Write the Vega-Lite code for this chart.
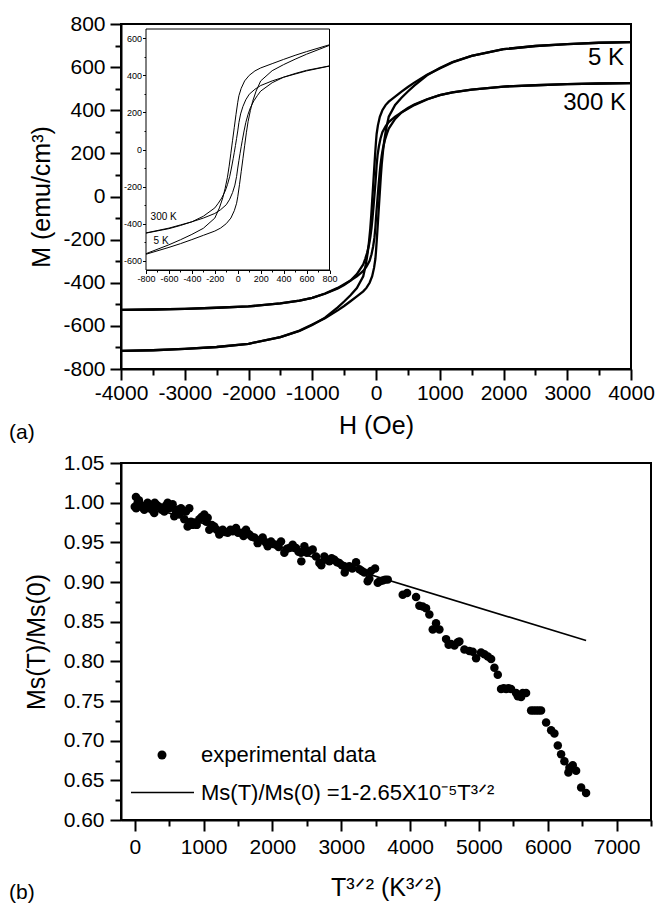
{
  "$schema": "https://vega.github.io/schema/vega-lite/v6.json",
  "padding": {"left": 8, "top": 12, "right": 5, "bottom": 5},
  "background": "white",
  "spacing": 7,
  "datasets": {
    "loops": [
      {"curve":"5K-down","H":4000,"M":716},{"curve":"5K-down","H":3500,"M":713},{"curve":"5K-down","H":3000,"M":707},{"curve":"5K-down","H":2500,"M":698},{"curve":"5K-down","H":2000,"M":683},{"curve":"5K-down","H":1500,"M":652},{"curve":"5K-down","H":1200,"M":622},{"curve":"5K-down","H":1000,"M":594},{"curve":"5K-down","H":800,"M":565},{"curve":"5K-down","H":600,"M":528},{"curve":"5K-down","H":500,"M":508},{"curve":"5K-down","H":400,"M":486},{"curve":"5K-down","H":300,"M":463},{"curve":"5K-down","H":200,"M":440},{"curve":"5K-down","H":150,"M":424},{"curve":"5K-down","H":100,"M":400},{"curve":"5K-down","H":60,"M":370},{"curve":"5K-down","H":30,"M":330},{"curve":"5K-down","H":10,"M":290},{"curve":"5K-down","H":0,"M":255},{"curve":"5K-down","H":-15,"M":190},{"curve":"5K-down","H":-30,"M":120},{"curve":"5K-down","H":-45,"M":50},{"curve":"5K-down","H":-60,"M":-20},{"curve":"5K-down","H":-75,"M":-90},{"curve":"5K-down","H":-90,"M":-150},{"curve":"5K-down","H":-110,"M":-210},{"curve":"5K-down","H":-130,"M":-260},{"curve":"5K-down","H":-160,"M":-315},{"curve":"5K-down","H":-200,"M":-370},{"curve":"5K-down","H":-300,"M":-425},{"curve":"5K-down","H":-400,"M":-458},{"curve":"5K-down","H":-500,"M":-487},{"curve":"5K-down","H":-600,"M":-514},{"curve":"5K-down","H":-800,"M":-562},{"curve":"5K-down","H":-1000,"M":-596},{"curve":"5K-down","H":-1200,"M":-624},{"curve":"5K-down","H":-1500,"M":-652},{"curve":"5K-down","H":-2000,"M":-683},{"curve":"5K-down","H":-2500,"M":-698},{"curve":"5K-down","H":-3000,"M":-707},{"curve":"5K-down","H":-3500,"M":-713},{"curve":"5K-down","H":-4000,"M":-716},
      {"curve":"5K-up","H":-4000,"M":-716},{"curve":"5K-up","H":-3500,"M":-713},{"curve":"5K-up","H":-3000,"M":-707},{"curve":"5K-up","H":-2500,"M":-698},{"curve":"5K-up","H":-2000,"M":-683},{"curve":"5K-up","H":-1500,"M":-652},{"curve":"5K-up","H":-1200,"M":-622},{"curve":"5K-up","H":-1000,"M":-594},{"curve":"5K-up","H":-800,"M":-565},{"curve":"5K-up","H":-600,"M":-528},{"curve":"5K-up","H":-500,"M":-508},{"curve":"5K-up","H":-400,"M":-486},{"curve":"5K-up","H":-300,"M":-463},{"curve":"5K-up","H":-200,"M":-440},{"curve":"5K-up","H":-150,"M":-424},{"curve":"5K-up","H":-100,"M":-400},{"curve":"5K-up","H":-60,"M":-370},{"curve":"5K-up","H":-30,"M":-330},{"curve":"5K-up","H":-10,"M":-290},{"curve":"5K-up","H":0,"M":-255},{"curve":"5K-up","H":15,"M":-190},{"curve":"5K-up","H":30,"M":-120},{"curve":"5K-up","H":45,"M":-50},{"curve":"5K-up","H":60,"M":20},{"curve":"5K-up","H":75,"M":90},{"curve":"5K-up","H":90,"M":150},{"curve":"5K-up","H":110,"M":210},{"curve":"5K-up","H":130,"M":260},{"curve":"5K-up","H":160,"M":315},{"curve":"5K-up","H":200,"M":370},{"curve":"5K-up","H":300,"M":425},{"curve":"5K-up","H":400,"M":458},{"curve":"5K-up","H":500,"M":487},{"curve":"5K-up","H":600,"M":514},{"curve":"5K-up","H":800,"M":562},{"curve":"5K-up","H":1000,"M":596},{"curve":"5K-up","H":1200,"M":624},{"curve":"5K-up","H":1500,"M":652},{"curve":"5K-up","H":2000,"M":683},{"curve":"5K-up","H":2500,"M":698},{"curve":"5K-up","H":3000,"M":707},{"curve":"5K-up","H":3500,"M":713},{"curve":"5K-up","H":4000,"M":716},
      {"curve":"300K-down","H":4000,"M":526},{"curve":"300K-down","H":3500,"M":524},{"curve":"300K-down","H":3000,"M":521},{"curve":"300K-down","H":2500,"M":516},{"curve":"300K-down","H":2000,"M":510},{"curve":"300K-down","H":1500,"M":496},{"curve":"300K-down","H":1200,"M":483},{"curve":"300K-down","H":1000,"M":470},{"curve":"300K-down","H":800,"M":450},{"curve":"300K-down","H":600,"M":424},{"curve":"300K-down","H":500,"M":407},{"curve":"300K-down","H":400,"M":390},{"curve":"300K-down","H":300,"M":370},{"curve":"300K-down","H":200,"M":345},{"curve":"300K-down","H":150,"M":325},{"curve":"300K-down","H":100,"M":298},{"curve":"300K-down","H":70,"M":268},{"curve":"300K-down","H":45,"M":232},{"curve":"300K-down","H":25,"M":192},{"curve":"300K-down","H":10,"M":145},{"curve":"300K-down","H":0,"M":100},{"curve":"300K-down","H":-10,"M":60},{"curve":"300K-down","H":-20,"M":22},{"curve":"300K-down","H":-30,"M":-15},{"curve":"300K-down","H":-40,"M":-50},{"curve":"300K-down","H":-55,"M":-100},{"curve":"300K-down","H":-70,"M":-145},{"curve":"300K-down","H":-90,"M":-190},{"curve":"300K-down","H":-110,"M":-225},{"curve":"300K-down","H":-140,"M":-262},{"curve":"300K-down","H":-170,"M":-290},{"curve":"300K-down","H":-200,"M":-315},{"curve":"300K-down","H":-300,"M":-360},{"curve":"300K-down","H":-400,"M":-390},{"curve":"300K-down","H":-500,"M":-410},{"curve":"300K-down","H":-600,"M":-427},{"curve":"300K-down","H":-800,"M":-451},{"curve":"300K-down","H":-1000,"M":-470},{"curve":"300K-down","H":-1200,"M":-483},{"curve":"300K-down","H":-1500,"M":-496},{"curve":"300K-down","H":-2000,"M":-510},{"curve":"300K-down","H":-2500,"M":-516},{"curve":"300K-down","H":-3000,"M":-521},{"curve":"300K-down","H":-3500,"M":-524},{"curve":"300K-down","H":-4000,"M":-526},
      {"curve":"300K-up","H":-4000,"M":-526},{"curve":"300K-up","H":-3500,"M":-524},{"curve":"300K-up","H":-3000,"M":-521},{"curve":"300K-up","H":-2500,"M":-516},{"curve":"300K-up","H":-2000,"M":-510},{"curve":"300K-up","H":-1500,"M":-496},{"curve":"300K-up","H":-1200,"M":-483},{"curve":"300K-up","H":-1000,"M":-470},{"curve":"300K-up","H":-800,"M":-450},{"curve":"300K-up","H":-600,"M":-424},{"curve":"300K-up","H":-500,"M":-407},{"curve":"300K-up","H":-400,"M":-390},{"curve":"300K-up","H":-300,"M":-370},{"curve":"300K-up","H":-200,"M":-345},{"curve":"300K-up","H":-150,"M":-325},{"curve":"300K-up","H":-100,"M":-298},{"curve":"300K-up","H":-70,"M":-268},{"curve":"300K-up","H":-45,"M":-232},{"curve":"300K-up","H":-25,"M":-192},{"curve":"300K-up","H":-10,"M":-145},{"curve":"300K-up","H":0,"M":-100},{"curve":"300K-up","H":10,"M":-60},{"curve":"300K-up","H":20,"M":-22},{"curve":"300K-up","H":30,"M":15},{"curve":"300K-up","H":40,"M":50},{"curve":"300K-up","H":55,"M":100},{"curve":"300K-up","H":70,"M":145},{"curve":"300K-up","H":90,"M":190},{"curve":"300K-up","H":110,"M":225},{"curve":"300K-up","H":140,"M":262},{"curve":"300K-up","H":170,"M":290},{"curve":"300K-up","H":200,"M":315},{"curve":"300K-up","H":300,"M":360},{"curve":"300K-up","H":400,"M":390},{"curve":"300K-up","H":500,"M":410},{"curve":"300K-up","H":600,"M":427},{"curve":"300K-up","H":800,"M":451},{"curve":"300K-up","H":1000,"M":470},{"curve":"300K-up","H":1200,"M":483},{"curve":"300K-up","H":1500,"M":496},{"curve":"300K-up","H":2000,"M":510},{"curve":"300K-up","H":2500,"M":516},{"curve":"300K-up","H":3000,"M":521},{"curve":"300K-up","H":3500,"M":524},{"curve":"300K-up","H":4000,"M":526}
    ],
    "ms": [
      {"t":0,"r":0.995},{"t":17,"r":1.007},{"t":20,"r":0.993},{"t":42,"r":1.0},{"t":60,"r":1.003},{"t":90,"r":0.997},{"t":110,"r":0.994},{"t":138,"r":0.991},{"t":160,"r":0.996},{"t":187,"r":1.0},{"t":210,"r":0.993},{"t":235,"r":0.995},{"t":260,"r":0.99},{"t":283,"r":0.987},{"t":290,"r":1.0},{"t":320,"r":0.997},{"t":356,"r":0.995},{"t":390,"r":0.991},{"t":429,"r":0.989},{"t":450,"r":0.996},{"t":478,"r":1.0},{"t":500,"r":0.993},{"t":526,"r":0.995},{"t":550,"r":0.998},{"t":574,"r":0.983},{"t":600,"r":0.988},{"t":623,"r":0.991},{"t":650,"r":0.985},{"t":671,"r":0.993},{"t":700,"r":0.99},{"t":720,"r":0.979},{"t":744,"r":0.989},{"t":768,"r":0.97},{"t":792,"r":0.993},{"t":817,"r":0.976},{"t":840,"r":0.972},{"t":865,"r":0.975},{"t":900,"r":0.972},{"t":938,"r":0.979},{"t":970,"r":0.982},{"t":1010,"r":0.985},{"t":1040,"r":0.976},{"t":1059,"r":0.981},{"t":1083,"r":0.966},{"t":1120,"r":0.972},{"t":1155,"r":0.97},{"t":1190,"r":0.966},{"t":1228,"r":0.96},{"t":1277,"r":0.966},{"t":1310,"r":0.963},{"t":1350,"r":0.962},{"t":1390,"r":0.966},{"t":1423,"r":0.964},{"t":1471,"r":0.968},{"t":1500,"r":0.962},{"t":1543,"r":0.962},{"t":1580,"r":0.958},{"t":1616,"r":0.966},{"t":1640,"r":0.961},{"t":1664,"r":0.96},{"t":1700,"r":0.957},{"t":1737,"r":0.956},{"t":1786,"r":0.949},{"t":1820,"r":0.953},{"t":1858,"r":0.956},{"t":1900,"r":0.95},{"t":1931,"r":0.945},{"t":1979,"r":0.951},{"t":2010,"r":0.948},{"t":2052,"r":0.947},{"t":2090,"r":0.944},{"t":2125,"r":0.951},{"t":2173,"r":0.937},{"t":2210,"r":0.942},{"t":2246,"r":0.943},{"t":2294,"r":0.947},
      {"t":2343,"r":0.943},{"t":2380,"r":0.938},{"t":2415,"r":0.937},{"t":2420,"r":0.926},{"t":2464,"r":0.945},{"t":2500,"r":0.937},{"t":2536,"r":0.939},{"t":2585,"r":0.941},{"t":2633,"r":0.932},{"t":2682,"r":0.924},{"t":2710,"r":0.921},{"t":2754,"r":0.932},{"t":2790,"r":0.928},{"t":2827,"r":0.926},{"t":2860,"r":0.93},{"t":2900,"r":0.928},{"t":2940,"r":0.925},{"t":2972,"r":0.924},{"t":3010,"r":0.921},{"t":3045,"r":0.92},{"t":3050,"r":0.912},{"t":3080,"r":0.918},{"t":3117,"r":0.92},{"t":3160,"r":0.917},{"t":3215,"r":0.925},{"t":3263,"r":0.916},{"t":3300,"r":0.914},{"t":3336,"r":0.912},{"t":3384,"r":0.901},{"t":3408,"r":0.904},{"t":3433,"r":0.914},{"t":3491,"r":0.917},{"t":3530,"r":0.899},{"t":3560,"r":0.901},{"t":3602,"r":0.902},{"t":3640,"r":0.903},{"t":3675,"r":0.903},
      {"t":3893,"r":0.884},{"t":3956,"r":0.886},{"t":4087,"r":0.881},{"t":4135,"r":0.87},{"t":4183,"r":0.869},{"t":4232,"r":0.867},{"t":4280,"r":0.859},{"t":4329,"r":0.84},{"t":4377,"r":0.848},{"t":4426,"r":0.84},{"t":4523,"r":0.828},{"t":4560,"r":0.821},{"t":4595,"r":0.822},{"t":4644,"r":0.82},{"t":4693,"r":0.824},{"t":4716,"r":0.825},{"t":4789,"r":0.815},{"t":4861,"r":0.813},{"t":4910,"r":0.812},{"t":4959,"r":0.804},{"t":5031,"r":0.811},{"t":5080,"r":0.809},{"t":5129,"r":0.806},{"t":5177,"r":0.803},{"t":5225,"r":0.792},{"t":5274,"r":0.783},{"t":5322,"r":0.765},{"t":5360,"r":0.766},{"t":5395,"r":0.765},{"t":5430,"r":0.766},{"t":5467,"r":0.765},{"t":5540,"r":0.76},{"t":5565,"r":0.756},{"t":5613,"r":0.755},{"t":5637,"r":0.76},{"t":5685,"r":0.76},{"t":5758,"r":0.738},{"t":5795,"r":0.738},{"t":5831,"r":0.738},{"t":5867,"r":0.738},{"t":5903,"r":0.738},{"t":5976,"r":0.723},{"t":6049,"r":0.713},{"t":6097,"r":0.709},{"t":6146,"r":0.694},{"t":6194,"r":0.683},{"t":6242,"r":0.674},{"t":6300,"r":0.66},{"t":6315,"r":0.666},{"t":6363,"r":0.669},{"t":6412,"r":0.662},{"t":6485,"r":0.641},{"t":6557,"r":0.634}
    ],
    "fit": [{"t":0,"r":1.0},{"t":6557,"r":0.8262}]
  },
  "resolve": {"scale": {"color": "independent", "shape": "independent"}},
  "vconcat": [
    {
      "width": 510,
      "height": 345,
      "title": {"text": "(a)", "orient": "bottom", "anchor": "start", "frame": "group", "dx": -112, "offset": -16, "fontSize": 21, "fontWeight": "normal", "font": "Liberation Sans", "color": "black"},
      "resolve": {"scale": {"x": "independent", "y": "independent"}, "axis": {"x": "independent", "y": "independent"}},
      "layer": [
        {
          "data": {"name": "loops"},
          "mark": {"type": "line", "stroke": "black", "strokeWidth": 2.3},
          "encoding": {
            "x": {"field": "H", "type": "quantitative", "scale": {"domain": [-4000, 4000], "nice": false, "zero": false},
              "axis": {"orient": "bottom", "title": "H (Oe)", "values": [-4000,-3000,-2000,-1000,0,1000,2000,3000,4000],
                "labelExpr": "toString(datum.value)", "tickSize": 11,
                "labelPadding": 2, "titlePadding": 10, "labelFlush": false, "labelOverlap": false}},
            "y": {"field": "M", "type": "quantitative", "scale": {"domain": [-800, 800], "nice": false, "zero": false},
              "axis": {"orient": "left", "title": "M (emu/cm³)", "values": [-800,-600,-400,-200,0,200,400,600,800],
                "labelExpr": "toString(datum.value)", "tickSize": 11,
                "labelPadding": 5, "titlePadding": 8, "labelOverlap": false}},
            "detail": {"field": "curve"}
          }
        },
        {
          "data": {"values": [{}]},
          "mark": {"type": "text", "align": "right", "baseline": "middle", "fontSize": 24, "font": "Liberation Sans", "color": "black"},
          "encoding": {
            "x": {"datum": 3890, "type": "quantitative", "scale": {"domain": [-4000, 4000], "nice": false, "zero": false},
              "axis": {"orient": "bottom", "title": null, "values": [-3500,-2500,-1500,-500,500,1500,2500,3500], "tickSize": 6, "labels": false, "domain": false}},
            "y": {"datum": 642, "type": "quantitative", "scale": {"domain": [-800, 800], "nice": false, "zero": false},
              "axis": {"orient": "left", "title": null, "values": [-700,-500,-300,-100,100,300,500,700], "tickSize": 6, "labels": false, "domain": false}},
            "text": {"value": "5 K"}
          }
        },
        {
          "data": {"values": [{}]},
          "mark": {"type": "text", "align": "right", "baseline": "middle", "fontSize": 24, "font": "Liberation Sans", "color": "black"},
          "encoding": {
            "x": {"datum": 3920, "type": "quantitative", "scale": {"domain": [-4000, 4000], "nice": false, "zero": false}, "axis": null},
            "y": {"datum": 434, "type": "quantitative", "scale": {"domain": [-800, 800], "nice": false, "zero": false}, "axis": null},
            "text": {"value": "300 K"}
          }
        },
        {
          "data": {"values": [{}]},
          "mark": {"type": "rect", "fill": "white", "stroke": "black", "strokeWidth": 1},
          "encoding": {
            "x": {"datum": -800, "type": "quantitative", "scale": {"domain": [-800, 800], "range": [25, 208.5], "nice": false, "zero": false}, "axis": null},
            "x2": {"datum": 800},
            "y": {"datum": -650, "type": "quantitative", "scale": {"domain": [-650, 650], "range": [246, 5], "nice": false, "zero": false}, "axis": null},
            "y2": {"datum": 650}
          }
        },
        {
          "data": {"name": "loops"},
          "transform": [{"filter": "datum.H >= -800 && datum.H <= 800"}],
          "mark": {"type": "line", "stroke": "black", "strokeWidth": 1},
          "encoding": {
            "x": {"field": "H", "type": "quantitative", "scale": {"domain": [-800, 800], "range": [25, 208.5], "nice": false, "zero": false},
              "axis": {"orient": "bottom", "offset": -99, "title": null, "values": [-800,-600,-400,-200,0,200,400,600,800],
                "labelExpr": "toString(datum.value)", "tickSize": 3.5,
                "labelFontSize": 9, "labelPadding": 1, "domainWidth": 1, "tickWidth": 1, "labelFlush": false, "labelOverlap": false}},
            "y": {"field": "M", "type": "quantitative", "scale": {"domain": [-650, 650], "range": [246, 5], "nice": false, "zero": false},
              "axis": {"orient": "left", "offset": -25, "title": null, "values": [-600,-400,-200,0,200,400,600],
                "labelExpr": "toString(datum.value)", "tickSize": 3.5,
                "labelFontSize": 9, "labelPadding": 1, "domainWidth": 1, "tickWidth": 1, "labelOverlap": false}},
            "detail": {"field": "curve"}
          }
        },
        {
          "data": {"values": [{}]},
          "mark": {"type": "text", "align": "left", "baseline": "middle", "fontSize": 10, "font": "Liberation Sans", "color": "black"},
          "encoding": {
            "x": {"datum": -760, "type": "quantitative", "scale": {"domain": [-800, 800], "range": [25, 208.5], "nice": false, "zero": false},
              "axis": {"orient": "bottom", "offset": -99, "title": null, "values": [-700,-500,-300,-100,100,300,500,700], "tickSize": 2, "tickWidth": 1, "labels": false, "domain": false}},
            "y": {"datum": -363, "type": "quantitative", "scale": {"domain": [-650, 650], "range": [246, 5], "nice": false, "zero": false},
              "axis": {"orient": "left", "offset": -25, "title": null, "values": [-500,-300,-100,100,300,500], "tickSize": 2, "tickWidth": 1, "labels": false, "domain": false}},
            "text": {"value": "300 K"}
          }
        },
        {
          "data": {"values": [{}]},
          "mark": {"type": "text", "align": "left", "baseline": "middle", "fontSize": 10, "font": "Liberation Sans", "color": "black"},
          "encoding": {
            "x": {"datum": -734, "type": "quantitative", "scale": {"domain": [-800, 800], "range": [25, 208.5], "nice": false, "zero": false}, "axis": null},
            "y": {"datum": -492, "type": "quantitative", "scale": {"domain": [-650, 650], "range": [246, 5], "nice": false, "zero": false}, "axis": null},
            "text": {"value": "5 K"}
          }
        }
      ]
    },
    {
      "width": 530,
      "height": 357,
      "title": {"text": "(b)", "orient": "bottom", "anchor": "start", "frame": "group", "dx": -112, "offset": -18, "fontSize": 21, "fontWeight": "normal", "font": "Liberation Sans", "color": "black"},
      "resolve": {"axis": {"x": "independent", "y": "independent"}},
      "layer": [
        {
          "data": {"name": "fit"},
          "mark": {"type": "line", "stroke": "black", "strokeWidth": 1.6},
          "encoding": {
            "x": {"field": "t", "type": "quantitative", "scale": {"domain": [-200, 7500], "nice": false, "zero": false},
              "axis": {"orient": "bottom", "title": "T³ᐟ² (K³ᐟ²)", "values": [0,1000,2000,3000,4000,5000,6000,7000],
                "labelExpr": "toString(datum.value)", "tickSize": 11,
                "labelPadding": 5, "titlePadding": 18, "labelFlush": false, "labelOverlap": false}},
            "y": {"field": "r", "type": "quantitative", "scale": {"domain": [0.6, 1.05], "nice": false, "zero": false},
              "axis": {"orient": "left", "title": "Ms(T)/Ms(0)", "values": [0.6,0.65,0.7,0.75,0.8,0.85,0.9,0.95,1.0,1.05],
                "format": ".2f", "tickSize": 11,
                "labelPadding": 6, "titlePadding": 14, "labelOverlap": false}},
            "color": {"datum": "Ms(T)/Ms(0) =1-2.65X10⁻⁵T³ᐟ²", "type": "nominal", "scale": {"range": ["black"]},
              "legend": {"orient": "none", "legendX": 9, "legendY": 297, "title": null, "symbolType": "stroke", "symbolSize": 3969, "symbolStrokeWidth": 1.6, "symbolStrokeColor": "black", "labelFont": "Liberation Sans", "labelFontSize": 22, "labelColor": "black", "labelOffset": 6, "labelLimit": 600, "padding": 0}}
          }
        },
        {
          "data": {"name": "ms"},
          "mark": {"type": "point", "filled": true, "color": "black", "size": 72, "opacity": 1},
          "encoding": {
            "x": {"field": "t", "type": "quantitative",
              "axis": {"orient": "bottom", "title": null, "values": [500,1500,2500,3500,4500,5500,6500,7500], "tickSize": 6, "labels": false, "domain": false}},
            "y": {"field": "r", "type": "quantitative",
              "axis": {"orient": "left", "title": null, "values": [0.625,0.675,0.725,0.775,0.825,0.875,0.925,0.975,1.025], "tickSize": 6, "labels": false, "domain": false}},
            "shape": {"datum": "experimental data", "type": "nominal", "scale": {"range": ["circle"]},
              "legend": {"orient": "none", "legendX": 30, "legendY": 281, "title": null, "symbolType": "circle", "symbolSize": 81, "symbolFillColor": "black", "symbolStrokeWidth": 0, "labelFont": "Liberation Sans", "labelFontSize": 22, "labelColor": "black", "labelOffset": 28, "labelLimit": 600, "padding": 0}}
          }
        }
      ]
    }
  ],
  "config": {
    "font": "Liberation Sans",
    "view": {"stroke": "black", "strokeWidth": 2},
    "axis": {"domainColor": "black", "domainWidth": 2, "tickColor": "black", "tickWidth": 2, "labelColor": "black", "titleColor": "black", "labelFont": "Liberation Sans", "titleFont": "Liberation Sans", "titleFontWeight": "normal", "grid": false, "labelFontSize": 21, "titleFontSize": 25}
  }
}
